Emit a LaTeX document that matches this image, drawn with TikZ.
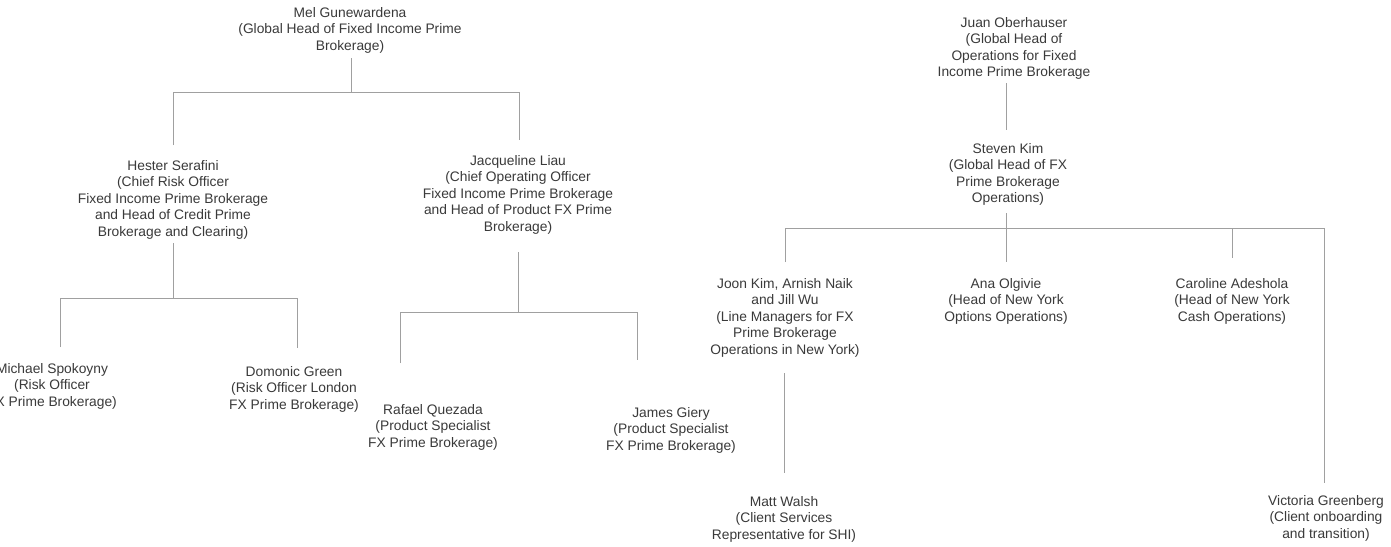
\documentclass[tikz,border=0pt]{standalone}
\usepackage{fontspec}
\setmainfont{Liberation Sans}
\definecolor{txt}{HTML}{3A3A3A}
\definecolor{ln}{HTML}{A0A0A0}
\begin{document}
\begin{tikzpicture}[x=1pt,y=-1pt,
  person/.style={anchor=north,align=center,inner sep=0pt,text=txt,
    font=\fontsize{13.8}{16.5}\selectfont},
  conn/.style={draw=ln,line width=1pt}]
\fill[white] (0,0) rectangle (1391,546);
\useasboundingbox (0,0) rectangle (1391,546);

% ---------- left tree ----------
\node[person] (mel) at (350,7) {Mel Gunewardena\\(Global Head of Fixed Income Prime\\Brokerage)};
\node[person] (hester) at (173,160) {Hester Serafini\\(Chief Risk Officer\\Fixed Income Prime Brokerage\\and Head of Credit Prime\\Brokerage and Clearing)};
\node[person] (jacq) at (518,155) {Jacqueline Liau\\(Chief Operating Officer\\Fixed Income Prime Brokerage\\and Head of Product FX Prime\\Brokerage)};
\node[person] (michael) at (52,363) {Michael Spokoyny\\(Risk Officer\\FX Prime Brokerage)};
\node[person] (domonic) at (294,366) {Domonic Green\\(Risk Officer London\\FX Prime Brokerage)};
\node[person] (rafael) at (433,404) {Rafael Quezada\\(Product Specialist\\FX Prime Brokerage)};
\node[person] (james) at (671,407) {James Giery\\(Product Specialist\\FX Prime Brokerage)};

% ---------- right tree ----------
\node[person] (juan) at (1014,17) {Juan Oberhauser\\(Global Head of\\Operations for Fixed\\Income Prime Brokerage};
\node[person] (steven) at (1008,143) {Steven Kim\\(Global Head of FX\\Prime Brokerage\\Operations)};
\node[person] (joon) at (785,278) {Joon Kim, Arnish Naik\\and Jill Wu\\(Line Managers for FX\\Prime Brokerage\\Operations in New York)};
\node[person] (ana) at (1006,278) {Ana Olgivie\\(Head of New York\\Options Operations)};
\node[person] (caroline) at (1232,278) {Caroline Adeshola\\(Head of New York\\Cash Operations)};
\node[person] (matt) at (784,496) {Matt Walsh\\(Client Services\\Representative for SHI)};
\node[person] (victoria) at (1326,495) {Victoria Greenberg\\(Client onboarding\\and transition)};

% ---------- connector end points ----------
\coordinate (mel-out) at (351,58);
\coordinate (bus-mel) at (0,92);
\coordinate (hester-in) at (173,145);
\coordinate (jacq-in) at (519,140);
\coordinate (hester-out) at (173,243);
\coordinate (bus-hester) at (0,298);
\coordinate (michael-in) at (60,347);
\coordinate (domonic-in) at (297,348);
\coordinate (jacq-out) at (518,252);
\coordinate (bus-jacq) at (0,312);
\coordinate (rafael-in) at (400,363);
\coordinate (james-in) at (637,360);
\coordinate (juan-out) at (1006.5,83);
\coordinate (steven-in) at (1006.5,130);
\coordinate (steven-out) at (1006.5,213);
\coordinate (bus-steven) at (0,228);
\coordinate (joon-in) at (785,262);
\coordinate (ana-in) at (1006.5,262);
\coordinate (caroline-in) at (1232,258);
\coordinate (victoria-in) at (1324,483);
\coordinate (joon-out) at (784,373);
\coordinate (matt-in) at (784,473);

% ---------- connectors ----------
\draw[conn] (mel-out) -- (mel-out |- bus-mel);
\draw[conn] (hester-in) -- (hester-in |- bus-mel) -- (jacq-in |- bus-mel) -- (jacq-in);

\draw[conn] (hester-out) -- (hester-out |- bus-hester);
\draw[conn] (michael-in) -- (michael-in |- bus-hester) -- (domonic-in |- bus-hester) -- (domonic-in);

\draw[conn] (jacq-out) -- (jacq-out |- bus-jacq);
\draw[conn] (rafael-in) -- (rafael-in |- bus-jacq) -- (james-in |- bus-jacq) -- (james-in);

\draw[conn] (juan-out) -- (steven-in);
\draw[conn] (steven-out) -- (ana-in);
\draw[conn] (joon-in) -- (joon-in |- bus-steven) -- (victoria-in |- bus-steven) -- (victoria-in);
\draw[conn] (caroline-in |- bus-steven) -- (caroline-in);
\draw[conn] (joon-out) -- (matt-in);
\end{tikzpicture}
\end{document}
